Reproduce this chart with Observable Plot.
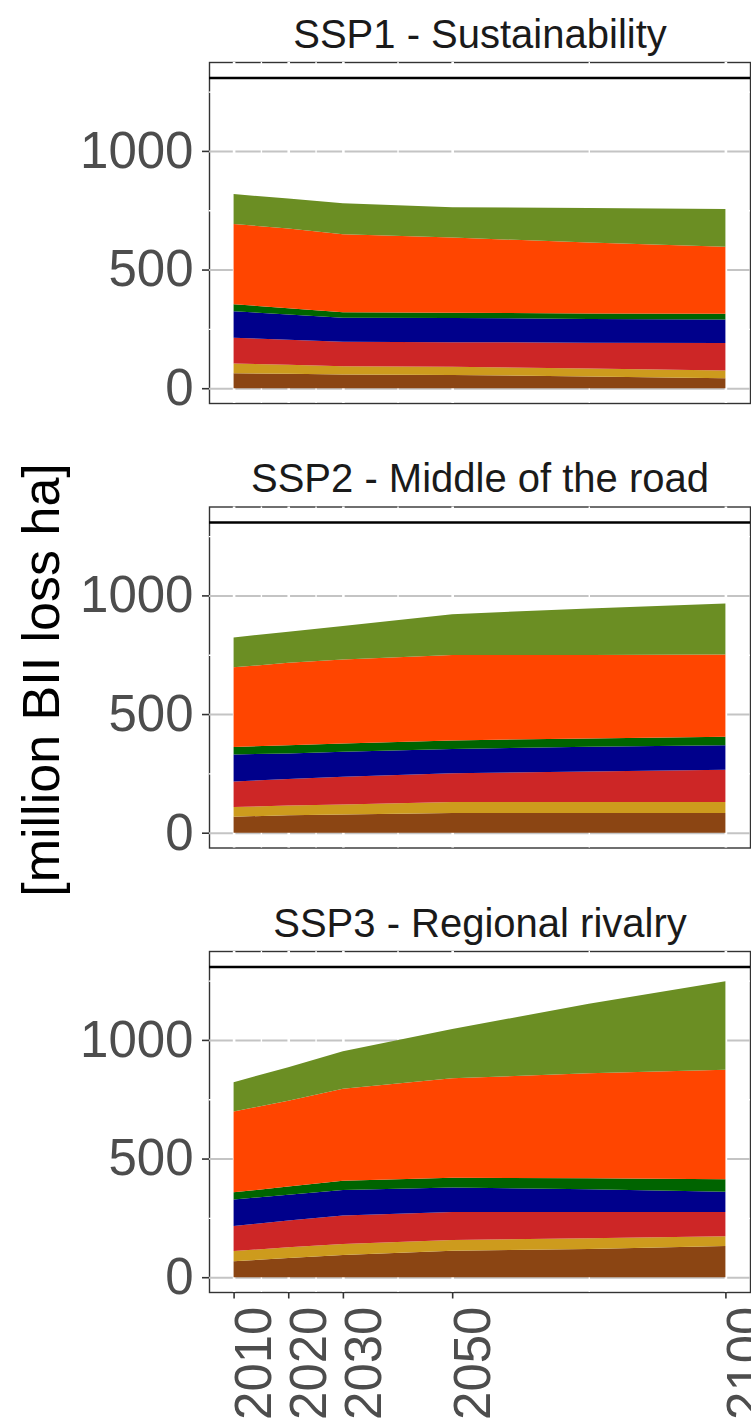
<!DOCTYPE html>
<html><head><meta charset="utf-8">
<script src="https://cdn.jsdelivr.net/npm/d3@7"></script>
<script src="https://cdn.jsdelivr.net/npm/@observablehq/plot@0.6"></script>
<style>
html,body{margin:0;padding:0;background:#fff;}
#chart{width:751px;height:1422px;overflow:hidden;position:relative;}
</style></head><body><div id="chart"></div>
<script>
// ---- data ----
const years = [2010, 2020, 2030, 2050, 2075, 2100];
const scenarios = ["SSP1 - Sustainability", "SSP2 - Middle of the road", "SSP3 - Regional rivalry"];
const seriesNames = ["layer 1", "layer 2", "layer 3", "layer 4", "layer 5", "layer 6", "layer 7"];
const palette = ["#8B4513", "#CD9B1D", "#CD2626", "#00008B", "#006400", "#FF4500", "#6B8E23"];
// rows = series (bottom to top), columns = years
const ssp1 = [
  [63, 61, 58, 56, 49, 42],
  [41, 38, 35, 34, 34, 33],
  [109, 105, 103, 104, 109, 115],
  [111, 107, 101, 102, 100, 100],
  [30, 26, 23, 22, 23, 24],
  [338, 336, 329, 317, 299, 282],
  [126, 126, 130, 128, 145, 159]
];
const ssp2 = [
  [67, 74, 77, 83, 83, 83],
  [41, 41, 42, 46, 46, 46],
  [108, 111, 117, 122, 129, 136],
  [114, 108, 105, 102, 104, 104],
  [31, 35, 35, 36, 35, 35],
  [336, 347, 354, 360, 352, 347],
  [126, 131, 141, 172, 196, 215]
];
const ssp3 = [
  [67, 81, 94, 112, 119, 131],
  [43, 45, 46, 45, 45, 42],
  [106, 113, 120, 118, 111, 102],
  [111, 109, 108, 103, 96, 85],
  [31, 34, 38, 41, 46, 53],
  [340, 362, 388, 419, 443, 461],
  [124, 141, 158, 208, 292, 373]
];
const xTicks = [2010, 2020, 2030, 2050, 2100];
const xMinor = [2015, 2025, 2040, 2075];
const yTicks = [0, 500, 1000];
const yMinor = [250, 750, 1250];
const yLabel = "[million BII loss ha]";

// ---- table for Plot ----
const tables = [ssp1, ssp2, ssp3];
const rows = [];
tables.forEach((tbl, i) => tbl.forEach((vals, j) => vals.forEach((v, k) =>
  rows.push({scenario: scenarios[i], series: seriesNames[j], year: years[k], value: v}))));

// ---- layout ----
const W = 751, H = 1422;
const mTop = 62, mBottom = 130, mLeft = 209, mRight = 1;
const facetH = 341, stripH = 15.5;
const step = (H - mTop - mBottom - facetH) / (scenarios.length - 1);
const padInner = (step - facetH) / step;

const maxTotal = d3.max(tables, tbl => d3.max(years, (_, k) => d3.sum(tbl, r => r[k])));
const lo = -0.05 * maxTotal, hi = 1.05 * maxTotal;
const pxPerUnit = (facetH - stripH) / (hi - lo);
const yTop = hi + stripH / pxPerUnit;
const xSpan = d3.max(years) - d3.min(years);
const xDomain = [d3.min(years) - 0.05 * xSpan, d3.max(years) + 0.05 * xSpan];

const font = "Liberation Sans, Arial, Helvetica, sans-serif";

const plot = Plot.plot({
  width: W, height: H,
  marginTop: mTop, marginBottom: mBottom, marginLeft: mLeft, marginRight: mRight,
  style: {fontFamily: font, background: "white"},
  x: {domain: xDomain},
  y: {domain: [lo, yTop]},
  fy: {domain: scenarios, paddingInner: padInner, paddingOuter: 0, round: false, axis: null},
  color: {type: "ordinal", domain: seriesNames, range: palette},
  marks: [
    Plot.frame({stroke: "#333", strokeWidth: 1.4}),
    Plot.gridY({ticks: yTicks, stroke: "#c4c4c4", strokeOpacity: 1, strokeWidth: 2}),
    Plot.gridX({ticks: xTicks, stroke: "white", strokeOpacity: 1, strokeWidth: 2.6}),
    Plot.gridX({ticks: xMinor, stroke: "white", strokeOpacity: 1, strokeWidth: 1.4}),
    Plot.gridY({ticks: yMinor, stroke: "white", strokeOpacity: 1, strokeWidth: 1.4}),
    Plot.areaY(rows, {x: "year", y: "value", fill: "series", fy: "scenario", order: seriesNames}),
    Plot.ruleY([hi], {stroke: "black", strokeWidth: 2.4}),
    Plot.axisY({ticks: yTicks, tickFormat: d => String(d), tickSize: 7, tickPadding: 9, fontSize: 51,
      color: "#4d4d4d", stroke: "#333", strokeWidth: 1.6, label: null}),
    Plot.axisX({ticks: xTicks, tickSize: 6.5, tickFormat: () => "", stroke: "#333", strokeWidth: 1.6, label: null}),
    Plot.text(xTicks.map(t => ({year: t, scenario: scenarios[scenarios.length - 1]})), {
      x: "year", fy: "scenario", text: d => String(d.year), frameAnchor: "bottom",
      rotate: -90, textAnchor: "end", lineAnchor: "middle", dx: 21, dy: 14,
      fontSize: 51, fill: "#4d4d4d"}),
    Plot.text(scenarios.map(s => ({scenario: s})), {
      fy: "scenario", text: "scenario", frameAnchor: "top", lineAnchor: "bottom", dy: -15,
      fontSize: 40, fill: "#1a1a1a"})
  ]
});

d3.select(plot).append("text")
  .attr("transform", `translate(59,${680}) rotate(-90)`)
  .attr("text-anchor", "middle")
  .attr("font-family", font)
  .attr("font-size", 52)
  .attr("fill", "black")
  .text(yLabel);

document.getElementById("chart").append(plot);
</script></body></html>
